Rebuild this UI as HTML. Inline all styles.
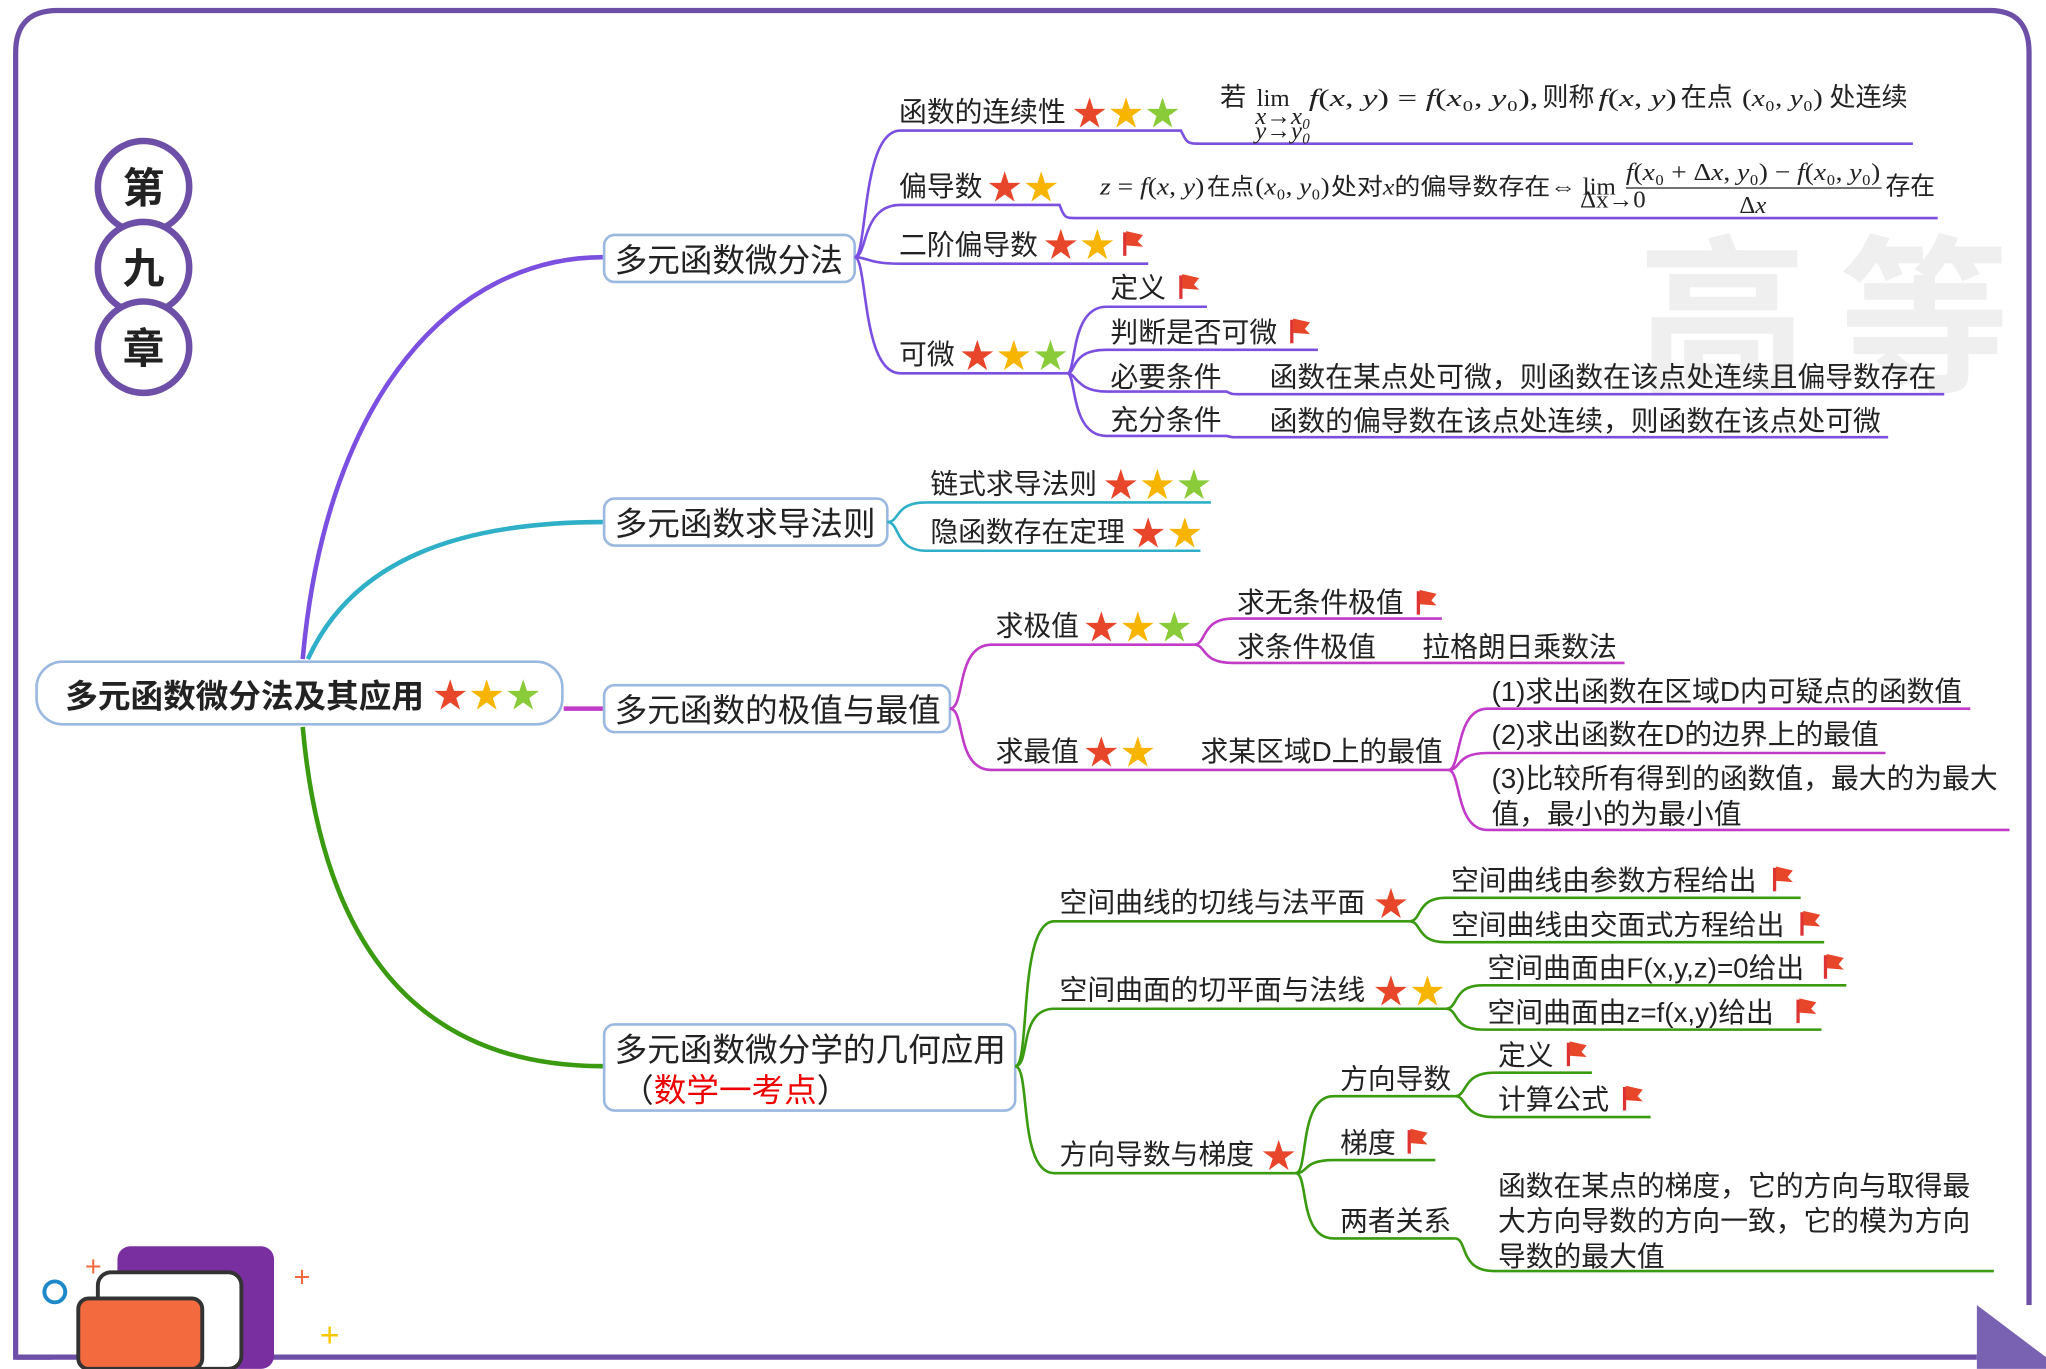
<!DOCTYPE html>
<html><head><meta charset="utf-8"><style>
html,body{margin:0;padding:0;background:#fff}
svg{display:block}
text{font-family:"Liberation Sans","Noto Sans CJK SC",sans-serif;fill:#222}
.t{font-size:21.3px}
.m{font-family:"Liberation Serif","Noto Serif CJK SC",serif;font-size:19px}
.i{font-style:italic}
</style></head><body>
<svg width="2046" height="1369" viewBox="0 0 1568 1049" xmlns="http://www.w3.org/2000/svg">
<defs>
<g id="fl"><path d="M0,0 L0,18" stroke="#d33" stroke-width="2.5"/><path d="M1,-1 L14,2 L10,7 L14,11 L1,10 Z" fill="#e8462a"/></g>
</defs>
<g font-size="130" font-weight="bold"><text x="1255" y="290" style="fill:#efefef">高</text><text x="1410" y="290" style="fill:#efefef">等</text></g>
<path d="M40,1040 L12,1040 L12,40 Q12,8 44,8 L1525,8 Q1555,8 1555,40 L1555,1000" fill="none" stroke="#6e4fa8" stroke-width="4"/>
<line x1="12" y1="1040" x2="1515" y2="1040" stroke="#6e4fa8" stroke-width="4"/>
<path d="M1515,1049 L1515,1000 L1568,1040 L1568,1049 Z" fill="#7a62b2"/>
<g stroke="#6e4fa8" stroke-width="5" fill="#fff">
<circle cx="110" cy="143" r="35"/><circle cx="110" cy="205" r="35"/><circle cx="110" cy="266" r="35"/></g>
<g font-size="32" font-weight="bold" text-anchor="middle"><text x="110" y="155">第</text><text x="110" y="217">九</text><text x="110" y="278">章</text></g>
<rect x="90" y="955" width="120" height="94" rx="10" fill="#7a2fa0"/>
<rect x="75" y="975" width="110" height="74" rx="10" fill="#fff" stroke="#333" stroke-width="3"/>
<rect x="60" y="995" width="95" height="54" rx="8" fill="#f36a3e" stroke="#333" stroke-width="3"/>
<circle cx="42" cy="990" r="8" fill="none" stroke="#1e88c8" stroke-width="3"/>
<text x="65" y="978" font-size="22" style="fill:#f36a3e">+</text><text x="225" y="986" font-size="22" style="fill:#f36a3e">+</text><text x="245" y="1032" font-size="26" style="fill:#f7c700">+</text>
<g fill="none" stroke-width="3.5">
<path d="M232,505 C250,300 350,197 462,197" stroke="#7b4fe0"/>
<path d="M236,505 C270,430 350,400 462,400" stroke="#2fb0c8"/>
<path d="M432,543 L462,543" stroke="#c13ac8"/>
<path d="M232,557 C250,760 350,817 462,817" stroke="#3a9a10"/>
</g>
<rect x="28" y="507" width="403" height="48" rx="20" fill="#fff" stroke="#9ab8e0" stroke-width="2"/>
<text x="50" y="542" font-size="25" font-weight="bold">多元函数微分法及其应用</text>
<g fill="#fff" stroke="#9ab8e0" stroke-width="2">
<rect x="463" y="180" width="192" height="36" rx="8"/><rect x="463" y="382" width="217" height="36" rx="8"/>
<rect x="463" y="525" width="265" height="36" rx="8"/><rect x="463" y="785" width="315" height="66" rx="8"/></g>
<g font-size="25"><text x="471" y="208">多元函数微分法</text><text x="471" y="410">多元函数求导法则</text><text x="471" y="553">多元函数的极值与最值</text>
<text x="471" y="813">多元函数微分学的几何应用</text><text x="476" y="844">（<tspan style="fill:#e00">数学一考点</tspan>）</text></g>
<g fill="none" stroke="#7b4fe0" stroke-width="2">
<path d="M655,197 C665,197 660,100 690,100 L905,100 C910,110 910,110 920,110 L1466,110"/>
<path d="M655,197 C665,197 660,157 690,157 L812,157 C816,167 816,167 825,167 L1485,167"/>
<path d="M655,197 C665,197 665,202 690,202 L880,202"/>
<path d="M655,197 C665,197 660,286 690,286 L818,286"/>
<path d="M818,286 C825,286 820,235 848,235 L925,235"/>
<path d="M818,286 C825,286 820,268 848,268 L1010,268"/>
<path d="M818,286 C825,286 825,300 848,300 L940,300 C944,302 944,302 950,302 L1490,302"/>
<path d="M818,286 C825,286 820,334 848,334 L940,334 C944,335 944,335 950,335 L1447,335"/>
</g>
<g class="t"><text x="689" y="93">函数的连续性</text><text x="689" y="150">偏导数</text><text x="689" y="195">二阶偏导数</text><text x="689" y="279">可微</text>
<text x="851" y="228">定义</text><text x="851" y="262">判断是否可微</text><text x="851" y="296">必要条件</text><text x="851" y="329">充分条件</text>
<text x="973" y="296">函数在某点处可微，则函数在该点处连续且偏导数存在</text><text x="973" y="330">函数的偏导数在该点处连续，则函数在该点处可微</text></g>
<text x="935" y="81" font-size="20">若</text>
<text x="963" y="81" class="m">lim</text><text x="962" y="95" class="m i" font-size="10">x→x₀</text><text x="962" y="106" class="m i" font-size="10">y→y₀</text>
<text x="1003" y="81" class="m" textLength="176" lengthAdjust="spacingAndGlyphs"><tspan class="i">f</tspan>(<tspan class="i">x</tspan>, <tspan class="i">y</tspan>) = <tspan class="i">f</tspan>(<tspan class="i">x</tspan>₀, <tspan class="i">y</tspan>₀),</text>
<text x="1182" y="81" font-size="20">则称</text>
<text x="1225" y="81" class="m" textLength="60" lengthAdjust="spacingAndGlyphs"><tspan class="i">f</tspan>(<tspan class="i">x</tspan>, <tspan class="i">y</tspan>)</text><text x="1288" y="81" font-size="20">在点</text>
<text x="1335" y="81" class="m" textLength="62" lengthAdjust="spacingAndGlyphs">(<tspan class="i">x</tspan>₀, <tspan class="i">y</tspan>₀)</text><text x="1402" y="81" font-size="20">处连续</text>
<text x="843" y="149" class="m" font-size="17" textLength="80" lengthAdjust="spacingAndGlyphs"><tspan class="i">z</tspan> = <tspan class="i">f</tspan>(<tspan class="i">x</tspan>, <tspan class="i">y</tspan>)</text>
<text x="925" y="149" font-size="18">在点</text><text x="962" y="149" class="m" font-size="17" textLength="57" lengthAdjust="spacingAndGlyphs">(<tspan class="i">x</tspan>₀, <tspan class="i">y</tspan>₀)</text>
<text x="1020" y="149" font-size="18" textLength="188" lengthAdjust="spacingAndGlyphs">处对<tspan class="i" font-family="Liberation Serif">x</tspan>的偏导数存在⇔</text>
<text x="1213" y="149" class="m" font-size="16">lim</text><text x="1211" y="159" class="m" font-size="9">Δx→0</text>
<text x="1246" y="138" class="m" font-size="17" textLength="195" lengthAdjust="spacingAndGlyphs"><tspan class="i">f</tspan>(<tspan class="i">x</tspan>₀ + Δ<tspan class="i">x</tspan>, <tspan class="i">y</tspan>₀) − <tspan class="i">f</tspan>(<tspan class="i">x</tspan>₀, <tspan class="i">y</tspan>₀)</text>
<line x1="1246" y1="144" x2="1442" y2="144" stroke="#222" stroke-width="1"/>
<text x="1333" y="163" class="m" font-size="17">Δ<tspan class="i">x</tspan></text>
<text x="1445" y="149" font-size="19">存在</text>
<g fill="none" stroke="#2fb0c8" stroke-width="2"><path d="M680,400 C690,400 685,385 710,385 L928,385"/><path d="M680,400 C690,400 685,422 710,422 L920,422"/></g>
<g class="t"><text x="713" y="378">链式求导法则</text><text x="713" y="415">隐函数存在定理</text></g>
<g fill="none" stroke="#c13ac8" stroke-width="2">
<path d="M728,543 C740,543 732,494 760,494 L915,494"/><path d="M728,543 C740,543 732,590 760,590 L1110,590"/>
<path d="M915,494 C925,494 920,474 945,474 L1105,474"/><path d="M915,494 C925,494 920,508 945,508 L1245,508"/>
<path d="M1110,590 C1120,590 1115,543 1140,543 L1510,543"/><path d="M1110,590 C1120,590 1115,577 1140,577 L1445,577"/><path d="M1110,590 C1120,590 1115,636 1140,636 L1540,636"/>
</g>
<g class="t"><text x="763" y="487">求极值</text><text x="763" y="583">求最值</text><text x="948" y="469">求无条件极值</text><text x="948" y="503">求条件极值</text><text x="1090" y="503">拉格朗日乘数法</text>
<text x="920" y="583">求某区域D上的最值</text><text x="1143" y="537">(1)求出函数在区域D内可疑点的函数值</text><text x="1143" y="570">(2)求出函数在D的边界上的最值</text>
<text x="1143" y="604">(3)比较所有得到的函数值，最大的为最大</text><text x="1143" y="631">值，最小的为最小值</text></g>
<g fill="none" stroke="#3a9a10" stroke-width="2">
<path d="M778,817 C790,817 780,706 808,706 L1080,706"/><path d="M778,817 C790,817 780,773 808,773 L1108,773"/><path d="M778,817 C790,817 780,899 808,899 L993,899"/>
<path d="M1080,706 C1090,706 1085,688 1108,688 L1380,688"/><path d="M1080,706 C1090,706 1085,722 1108,722 L1398,722"/>
<path d="M1108,773 C1118,773 1113,755 1136,755 L1415,755"/><path d="M1108,773 C1118,773 1113,789 1136,789 L1396,789"/>
<path d="M993,899 C1003,899 995,840 1022,840 L1115,840"/><path d="M993,899 C1003,899 998,889 1022,889 L1100,889"/><path d="M993,899 C1003,899 995,949 1022,949 L1115,949"/>
<path d="M1115,840 C1125,840 1120,822 1145,822 L1220,822"/><path d="M1115,840 C1125,840 1120,856 1145,856 L1265,856"/>
<path d="M1115,949 C1125,949 1118,974 1145,974 L1528,974"/>
</g>
<g class="t"><text x="812" y="699">空间曲线的切线与法平面</text><text x="812" y="766">空间曲面的切平面与法线</text><text x="812" y="892">方向导数与梯度</text>
<text x="1112" y="682">空间曲线由参数方程给出</text><text x="1112" y="716">空间曲线由交面式方程给出</text><text x="1140" y="749">空间曲面由F(x,y,z)=0给出</text><text x="1140" y="783">空间曲面由z=f(x,y)给出</text>
<text x="1027" y="834">方向导数</text><text x="1027" y="883">梯度</text><text x="1027" y="943">两者关系</text><text x="1148" y="816">定义</text><text x="1148" y="850">计算公式</text>
<text x="1148" y="916">函数在某点的梯度，它的方向与取得最</text><text x="1148" y="943">大方向导数的方向一致，它的模为方向</text><text x="1148" y="970">导数的最大值</text></g>
<g font-size="26">
<text x="332" y="542" style="fill:#e8462a">★</text><text x="360" y="542" style="fill:#f7b500">★</text><text x="388" y="542" style="fill:#8acb3a">★</text>
<text x="822" y="96" style="fill:#e8462a">★</text><text x="850" y="96" style="fill:#f7b500">★</text><text x="878" y="96" style="fill:#8acb3a">★</text>
<text x="757" y="153" style="fill:#e8462a">★</text><text x="785" y="153" style="fill:#f7b500">★</text>
<text x="800" y="197" style="fill:#e8462a">★</text><text x="828" y="197" style="fill:#f7b500">★</text>
<text x="736" y="282" style="fill:#e8462a">★</text><text x="764" y="282" style="fill:#f7b500">★</text><text x="792" y="282" style="fill:#8acb3a">★</text>
<text x="846" y="381" style="fill:#e8462a">★</text><text x="874" y="381" style="fill:#f7b500">★</text><text x="902" y="381" style="fill:#8acb3a">★</text>
<text x="867" y="418" style="fill:#e8462a">★</text><text x="895" y="418" style="fill:#f7b500">★</text>
<text x="831" y="490" style="fill:#e8462a">★</text><text x="859" y="490" style="fill:#f7b500">★</text><text x="887" y="490" style="fill:#8acb3a">★</text>
<text x="831" y="586" style="fill:#e8462a">★</text><text x="859" y="586" style="fill:#f7b500">★</text>
<text x="1053" y="702" style="fill:#e8462a">★</text>
<text x="1053" y="769" style="fill:#e8462a">★</text><text x="1081" y="769" style="fill:#f7b500">★</text>
<text x="967" y="895" style="fill:#e8462a">★</text>
</g>
<use href="#fl" x="862" y="178"/><use href="#fl" x="905" y="211"/><use href="#fl" x="990" y="245"/><use href="#fl" x="1087" y="453"/>
<use href="#fl" x="1360" y="665"/><use href="#fl" x="1381" y="699"/><use href="#fl" x="1399" y="732"/><use href="#fl" x="1378" y="766"/>
<use href="#fl" x="1202" y="799"/><use href="#fl" x="1245" y="833"/><use href="#fl" x="1080" y="866"/>
</svg>
</body></html>
